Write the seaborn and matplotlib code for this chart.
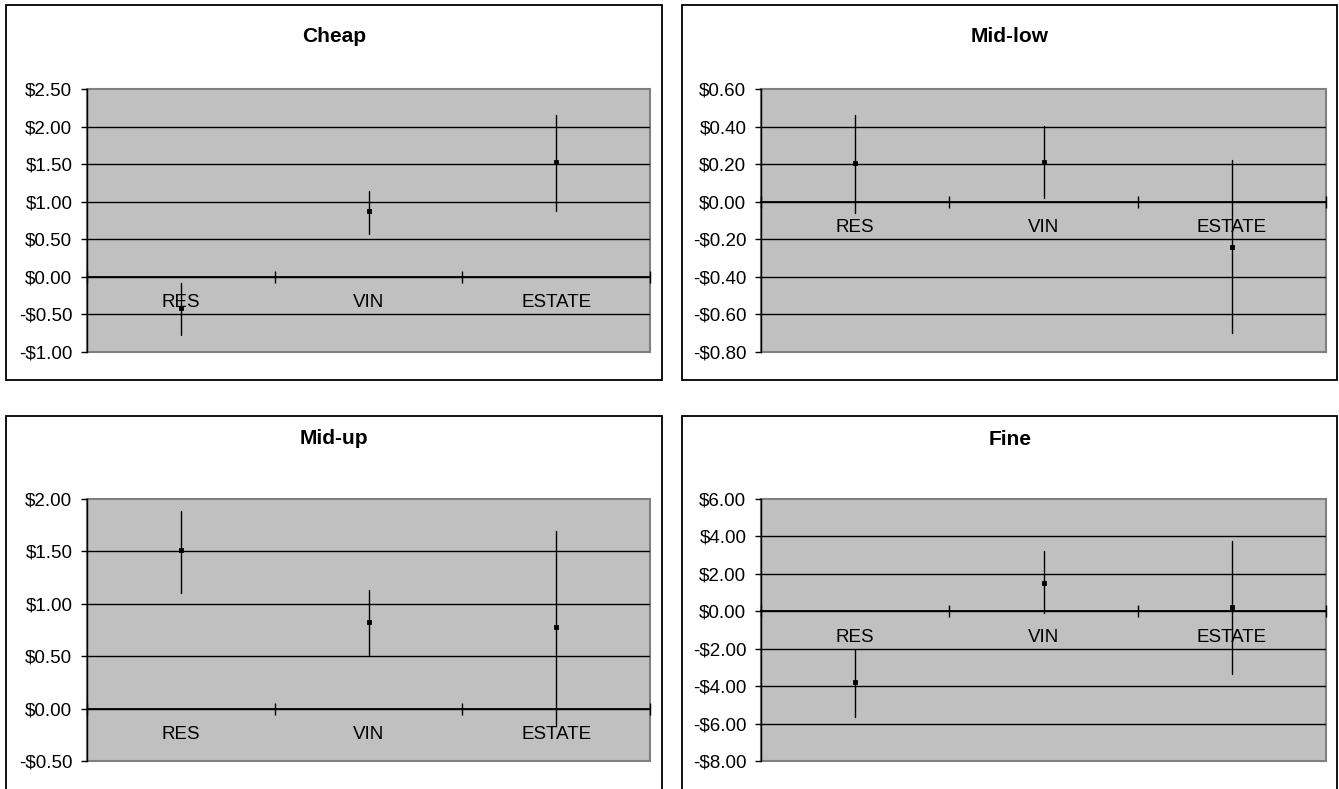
import numpy as np
import pandas as pd
import matplotlib
matplotlib.use("Agg")
import matplotlib.pyplot as plt
from matplotlib.patches import Rectangle
from matplotlib.ticker import FuncFormatter, MultipleLocator
import seaborn as sns

# ---------------- data ----------------
categories = ["RES", "VIN", "ESTATE"]
panel_titles = ["Cheap", "Mid-low", "Mid-up", "Fine"]

cheap_mean = [-0.42, 0.88, 1.53]
cheap_low = [-0.77, 0.57, 0.88]
cheap_high = [-0.08, 1.14, 2.16]

midlow_mean = [0.205, 0.213, -0.241]
midlow_low = [-0.06, 0.02, -0.70]
midlow_high = [0.46, 0.405, 0.22]

midup_mean = [1.51, 0.83, 0.78]
midup_low = [1.10, 0.505, -0.16]
midup_high = [1.885, 1.135, 1.69]

fine_mean = [-3.80, 1.51, 0.25]
fine_low = [-5.64, -0.10, -3.37]
fine_high = [-2.05, 3.20, 3.77]

y_limits = [(-1.0, 2.5), (-0.8, 0.6), (-0.5, 2.0), (-8.0, 6.0)]
y_steps = [0.5, 0.2, 0.5, 2.0]

series = [
    (cheap_low, cheap_mean, cheap_high),
    (midlow_low, midlow_mean, midlow_high),
    (midup_low, midup_mean, midup_high),
    (fine_low, fine_mean, fine_high),
]

rows = []
for title, (lo, me, hi) in zip(panel_titles, series):
    for c, a, b, d in zip(categories, lo, me, hi):
        for v in (a, b, d):
            rows.append({"panel": title, "category": c, "value": v})
df = pd.DataFrame(rows)

# ---------------- style ----------------
sns.set_style("white")
plt.rcParams["font.family"] = ["Liberation Sans", "DejaVu Sans"]
plt.rcParams["text.color"] = "black"
plt.rcParams["xtick.color"] = "black"
plt.rcParams["ytick.color"] = "black"
plt.rcParams["axes.labelcolor"] = "black"

W, H = 1339, 789
fig = plt.figure(figsize=(W / 100, H / 100), dpi=100)

# layout (pixels): axes rects and chart boxes
ax_rects_px = [(87, 89, 650, 352), (761, 89, 1326, 352),
               (87, 499, 650, 761), (761, 499, 1326, 761)]
box_rects_px = [(6, 5, 662, 380), (682, 5, 1337, 380),
                (6, 416, 662, 800), (682, 416, 1337, 800)]
title_pos_px = [(334, 37), (1010, 37), (334, 439), (1010, 440)]


def money(v, _):
    if abs(v) < 1e-9:
        v = 0.0
    return f"-${abs(v):.2f}" if v < 0 else f"${v:.2f}"


for i, title in enumerate(panel_titles):
    bx0, by0, bx1, by1 = box_rects_px[i]
    fig.add_artist(Rectangle((bx0 / W, 1 - by1 / H), (bx1 - bx0) / W, (by1 - by0) / H,
                             transform=fig.transFigure, fill=False,
                             edgecolor="black", linewidth=1.3, zorder=0))
    tx, ty = title_pos_px[i]
    fig.text(tx / W, 1 - ty / H, title, ha="center", va="center",
             fontsize=15, fontweight="bold", color="black")

    x0, y0, x1, y1 = ax_rects_px[i]
    ax = fig.add_axes([x0 / W, 1 - y1 / H, (x1 - x0) / W, (y1 - y0) / H])
    ax.set_facecolor("#c0c0c0")
    ax.patch.set_edgecolor("#808080")
    ax.patch.set_linewidth(1.5)

    sub = df[df["panel"] == title]
    sns.pointplot(data=sub, x="category", y="value", order=categories,
                  estimator="median", errorbar=lambda v: (v.min(), v.max()),
                  linestyle="none", marker="s", markersize=1.5, color="black",
                  err_kws={"linewidth": 1.0}, capsize=0, ax=ax)

    lo, hi = y_limits[i]
    ax.set_ylim(lo, hi)
    ax.yaxis.set_major_locator(MultipleLocator(y_steps[i]))
    ax.yaxis.set_major_formatter(FuncFormatter(money))
    ax.set_xlim(-0.5, 2.5)
    ax.set_xlabel("")
    ax.set_ylabel("")

    ax.yaxis.grid(True, color="black", linewidth=1.0)
    ax.xaxis.grid(False)
    ax.set_axisbelow(True)

    for s in ("top", "right"):
        ax.spines[s].set_visible(False)
    ax.spines["left"].set_color("black")
    ax.spines["left"].set_linewidth(1.0)
    ax.spines["bottom"].set_position(("data", 0))
    ax.spines["bottom"].set_color("black")
    ax.spines["bottom"].set_linewidth(1.3)

    ax.set_xticks([-0.5, 0.5, 1.5, 2.5])
    ax.set_xticklabels([])
    ax.set_xticks([0, 1, 2], minor=True)
    ax.set_xticklabels(categories, minor=True)
    ax.tick_params(axis="x", which="major", direction="inout", length=9,
                   width=1, color="black", bottom=True)
    ax.tick_params(axis="x", which="minor", length=0, pad=12.5, labelsize=13.5,
                   labelcolor="black")
    ax.tick_params(axis="y", which="major", direction="out", length=4.5,
                   width=1, color="black", left=True, pad=6, labelsize=13.5,
                   labelcolor="black")

    fig.canvas.draw()
    gl = ax.yaxis.get_gridlines()
    ticks = ax.get_yticks()
    for g, t in zip(gl, ticks):
        if abs(t - lo) < 1e-9 or abs(t - hi) < 1e-9:
            g.set_visible(False)

fig.savefig("out.png", dpi=100)
